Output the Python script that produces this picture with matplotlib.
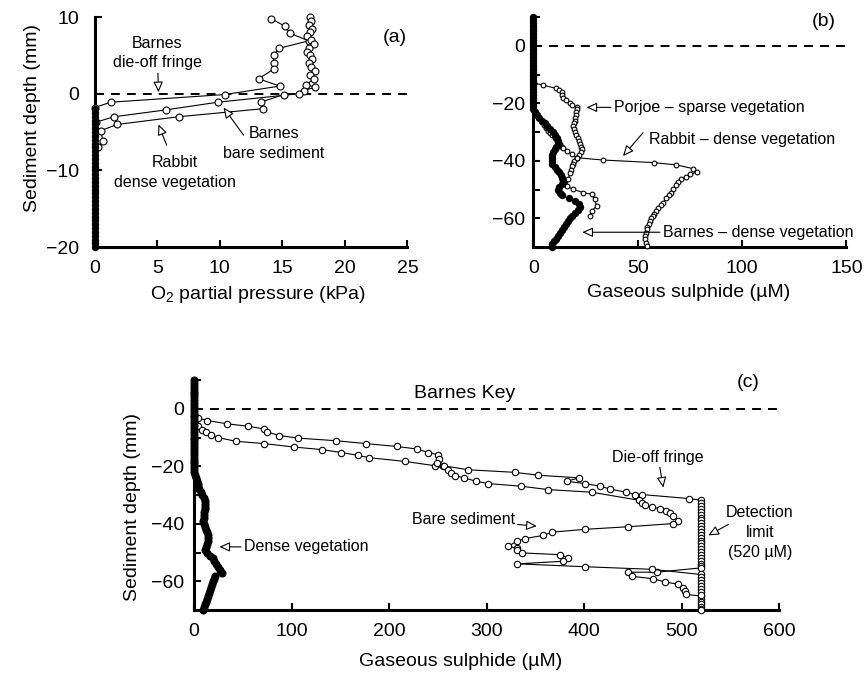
import numpy as np
import matplotlib
matplotlib.use('Agg')
import matplotlib.pyplot as plt

plt.rcParams['font.family'] = ['Liberation Sans', 'DejaVu Sans']
plt.rcParams['mathtext.fontset'] = 'custom'
plt.rcParams['mathtext.rm'] = 'Liberation Sans'

# ---------------- panel (a): O2 partial pressure (kPa) vs depth (mm)
a_dieoff_x = [14.1, 15.2, 15.6, 17.1, 14.7, 14.3, 14.3, 14.3, 13.1, 14.8, 10.4, 1.28, 0.0]
a_dieoff_y = [9.8, 8.8, 7.9, 6.9, 5.9, 5.0, 4.0, 3.2, 1.95, 1.0, -0.1, -1.1, -1.8]

a_bare_x = [17.2, 17.3, 17.1, 17.4, 17.2, 17.0, 17.3, 17.5, 17.1, 17.0, 17.2, 17.4, 17.1,
            17.3, 17.6, 17.2, 17.5, 16.9, 17.6, 16.7, 16.3, 9.85, 5.7, 1.54, 0.1]
a_bare_y = [10.0, 9.5, 9.0, 8.5, 8.0, 7.5, 7.0, 6.5, 6.0, 5.5, 5.0, 4.5, 4.0,
            3.5, 3.0, 2.5, 1.9, 1.2, 0.86, 0.4, 0.0, -1.1, -2.1, -3.0, -3.7]

a_rabbit_x = [15.1, 13.3, 13.45, 6.7, 1.8, 0.5, 0.64, 0.29]
a_rabbit_y = [-0.1, -1.1, -1.95, -3.0, -4.0, -4.8, -6.1, -6.9]

a_anoxic_y = [-2.0, -2.5, -3.0, -3.5, -4.0, -4.5, -5.0, -5.5, -6.0, -6.5, -7.0, -7.5,
              -8.0, -8.5, -9.0, -9.5, -10.0, -10.5, -11.0, -11.5, -12.0, -12.5, -13.0,
              -13.5, -14.0, -14.5, -15.0, -15.5, -16.0, -16.5, -17.0, -17.5, -18.0,
              -18.5, -19.0, -19.5, -20.0]
a_anoxic_x = [0.0] * len(a_anoxic_y)

# ---------------- panel (b): gaseous sulphide (uM)
b_barnes_y = [10, 9, 8, 7, 6, 5, 4, 3, 2, 1, 0, -1, -2, -3, -4, -5, -6, -7, -8, -9, -10,
              -11, -12, -13, -14, -15, -16, -17, -18, -19, -20, -21, -22, -23, -24, -25,
              -26, -27, -28, -29, -30, -31, -32, -33, -34, -35, -36, -37, -38, -39, -40,
              -41, -42, -43, -44, -45, -46, -47, -48, -49, -50, -51, -52, -53, -54, -55,
              -56, -57, -58, -59, -60, -61, -62, -63, -64, -65, -66, -67, -68, -69, -70]
b_barnes_x = [0] * 33 + [0.8, 1.8, 2.8, 4.2, 5.4, 6.5, 8.0, 9.6, 10.6, 11.4, 12.0, 11.8,
                         11.0, 10.2, 9.6, 9.2, 8.9, 8.8, 9.2, 10.3, 11.3, 12.4, 13.4, 14.0,
                         14.4, 14.0, 12.5, 12.0, 12.6, 13.6, 17.0, 20.0, 22.0, 22.3, 21.3,
                         19.8, 18.5, 17.4, 16.5, 15.6, 14.8, 13.8, 12.8, 11.8, 10.7, 9.9,
                         9.2, 8.8]

b_porjoe_x = [0.5, 4.8, 10.9, 12.5, 13.6, 14.0, 14.4, 15.5, 17.5, 18.4, 20.8, 21.0, 20.5,
              20.5, 20.0, 19.8, 19.5, 19.2, 19.5, 19.8, 20.5, 21.2, 22.0, 22.3, 22.8, 23.2,
              22.8, 22.0, 20.8, 19.5, 18.8, 18.4, 18.0, 17.6, 16.8, 16.0, 19.1, 23.9, 27.9,
              29.5, 30.3, 27.9, 27.1]
b_porjoe_y = [-13.0, -13.7, -14.8, -15.5, -16.2, -17.0, -18.0, -19.0, -20.0, -20.6, -21.4,
              -22.0, -23.0, -24.0, -25.0, -26.0, -27.0, -28.0, -29.0, -30.0, -31.0, -32.0,
              -33.0, -34.0, -35.0, -36.0, -37.0, -38.0, -38.9, -40.0, -41.0, -41.8, -43.0,
              -44.1, -46.4, -48.7, -49.9, -51.0, -51.6, -53.4, -55.7, -57.5, -59.2]

b_rabbit_x = [0.8, 1.5, 2.3, 3.2, 4.2, 5.2, 6.2, 7.2, 8.0, 9.0, 10.3, 11.5, 12.6, 13.8, 14.4,
              16.3, 18.4, 20.8, 33.5, 57.7, 68.6, 76.6, 78.5, 75.0, 73.0, 71.0, 69.5, 68.3,
              67.0, 65.8, 64.8, 63.6, 62.2, 61.0, 59.8, 58.8, 57.9, 57.4, 56.6, 55.8, 55.2,
              54.7, 54.3, 53.8, 53.5, 53.4, 53.8, 54.3]
b_rabbit_y = [-22.6, -23.5, -24.5, -25.5, -26.5, -27.5, -28.5, -29.5, -30.2, -31.0, -32.0,
              -33.0, -34.0, -35.0, -35.4, -36.5, -37.7, -38.9, -39.7, -40.6, -41.4, -42.7,
              -43.9, -44.7, -45.5, -46.4, -47.5, -48.5, -49.9, -51.0, -52.0, -53.0, -54.5,
              -55.5, -56.5, -57.5, -58.5, -59.2, -60.0, -61.0, -62.0, -63.0, -63.8, -65.0,
              -66.0, -67.3, -68.5, -69.6]

# ---------------- panel (c): Barnes Key
c_dense_y = b_barnes_y
c_dense_x = [0] * 33 + [1.0, 2.0, 3.0, 3.8, 4.4, 5.5, 7.0, 8.5, 10.0, 11.0, 11.3, 11.3, 11.0,
                        10.6, 10.2, 9.8, 9.6, 9.8, 10.8, 12.0, 13.5, 14.5, 14.7, 14.0, 13.0,
                        12.0, 11.3, 13.0, 16.0, 19.0, 20.5, 22.5, 25.0, 27.0, 28.4, 22.0,
                        20.5, 19.5, 18.5, 17.2, 16.2, 15.0, 14.0, 13.0, 11.8, 10.8, 10.0,
                        9.6]

c_dieoff_x = [0.5, 4.4, 13.6, 33.5, 55.7, 71.8, 75.2, 87.5, 107.0, 145.6, 176.1, 207.9, 229.0,
              240.3, 250.6, 251.6, 248.9, 255.7, 281.3, 329.2, 353.2, 394.9, 382.2, 401.0,
              416.4, 426.7, 443.1, 452.3, 459.1, 507.4,
              520, 520, 520, 520, 520, 520, 520, 520, 520, 520, 520, 520, 520, 520, 520, 520,
              520, 520, 520, 520, 520, 520, 520, 520, 520,
              474.5, 445.4, 448.9, 471.0, 483.1, 496.8, 501.9, 503.6, 504.6,
              520, 520, 520, 520, 520, 520, 520]
c_dieoff_y = [-2.6, -3.2, -4.1, -5.2, -6.1, -7.0, -8.1, -9.3, -10.2, -11.1, -12.1, -13.1, -14.0,
              -15.2, -16.0, -17.4, -19.1, -19.8, -21.2, -22.1, -23.1, -24.0, -25.2, -26.0,
              -26.9, -27.9, -29.0, -29.8, -29.8, -31.2,
              -31.8, -32.8, -33.8, -34.8, -35.8, -36.8, -37.8, -38.8, -39.8, -40.8, -41.8,
              -42.8, -43.8, -44.8, -45.8, -46.8, -47.8, -48.8, -49.8, -50.8, -51.8, -52.8,
              -53.8, -54.6, -55.3,
              -56.8, -56.8, -58.2, -59.1, -60.2, -61.0, -62.2, -63.4, -64.5,
              -65.1, -66.0, -67.0, -68.0, -69.0, -69.6, -70.0]

c_bare_x = [0.5, 4.1, 8.2, 12.6, 17.7, 24.6, 42.8, 71.8, 102.6, 131.3, 151.1, 168.2, 179.5,
            216.4, 247.2, 249.0, 256.4, 260.8, 263.2, 267.7, 276.9, 289.2, 301.8, 335.0,
            363.4, 407.9, 456.4, 459.0, 463.0, 469.4, 478.0, 484.0, 488.2, 491.6, 496.8,
            491.6, 445.4, 401.0, 366.9, 358.3, 339.5, 331.0, 322.4, 331.0, 331.0, 336.1,
            375.4, 383.9, 378.8, 331.6, 401.0, 469.4,
            520, 520, 520, 520, 520, 520, 520, 520]
c_bare_y = [-5.0, -6.1, -7.3, -8.1, -9.0, -10.0, -11.3, -12.1, -13.3, -14.2, -15.2, -16.2, -17.0,
            -18.3, -19.8, -18.8, -20.0, -21.2, -22.3, -23.2, -24.0, -25.2, -26.0, -26.9,
            -28.1, -29.0, -31.8, -32.6, -33.4, -34.1, -34.8, -35.5, -36.2, -37.4, -39.1,
            -39.9, -41.0, -41.9, -42.9, -44.0, -45.1, -46.0, -47.8, -48.5, -49.2, -50.1,
            -50.7, -51.8, -53.0, -53.9, -54.9, -55.8,
            -57.6, -58.6, -59.6, -60.6, -61.6, -62.6, -63.6, -64.6]

FS_TICK = 14
FS_LAB = 14
FS_ANN = 11.5

fig = plt.figure(figsize=(8.65, 6.81), dpi=100)
ax_a = fig.add_axes([0.1095, 0.637, 0.3615, 0.338])
ax_b = fig.add_axes([0.6165, 0.637, 0.362, 0.338])
ax_c = fig.add_axes([0.2243, 0.104, 0.6763, 0.338])


def style(ax, ypad):
    for s in ['top', 'right']:
        ax.spines[s].set_visible(False)
    for s in ['left', 'bottom']:
        ax.spines[s].set_linewidth(2.2)
    ax.tick_params(which='both', direction='in', length=5, width=1.5,
                   labelsize=FS_TICK)
    ax.tick_params(axis='x', which='both', pad=9)
    ax.tick_params(axis='y', which='both', pad=ypad)
    ax.axhline(0, color='black', lw=1.4, ls=(0, (4.6, 3.6)), zorder=1)


def arrow(ax, text, tip, xytext, **kw):
    ax.annotate(text, xy=tip, xytext=xytext, fontsize=FS_ANN,
                arrowprops=dict(arrowstyle='-|>,head_length=0.55,head_width=0.25',
                                fc='white', ec='black', lw=0.8,
                                shrinkA=0, shrinkB=0), **kw)


open_kw = dict(color='black', lw=0.8, marker='o', mfc='white', mec='black',
               mew=0.8, clip_on=False, zorder=3)
fill_kw = dict(color='black', lw=0.8, marker='o', mfc='black', mec='black',
               mew=0.8, clip_on=False, zorder=4)

# (a)
style(ax_a, 11)
ax_a.plot(a_dieoff_x, a_dieoff_y, ms=5, **open_kw)
ax_a.plot(a_bare_x, a_bare_y, ms=5, **open_kw)
ax_a.plot(a_rabbit_x, a_rabbit_y, ms=5, **open_kw)
ax_a.plot(a_anoxic_x, a_anoxic_y, ms=4.5, **fill_kw)
ax_a.set_xlim(0, 25)
ax_a.set_ylim(-20, 10)
ax_a.set_xticks([0, 5, 10, 15, 20, 25])
ax_a.set_yticks([-20, -10, 0, 10])
ax_a.set_xlabel('O$_2$ partial pressure (kPa)', fontsize=FS_LAB, va='top')
ax_a.xaxis.set_label_coords(0.523, -0.159)
ax_a.set_ylabel('Sediment depth (mm)', fontsize=FS_LAB)
ax_a.yaxis.set_label_coords(-0.172, 0.563)
ax_a.text(24.0, 7.3, '(a)', fontsize=FS_LAB, ha='center', va='center')
arrow(ax_a, 'Barnes\ndie-off fringe', (5.1, 0.2), (5.0, 5.3), ha='center', va='center',
      linespacing=1.4)
arrow(ax_a, '', (10.3, -1.8), (11.9, -5.4))
ax_a.text(14.3, -6.5, 'Barnes\nbare sediment', fontsize=FS_ANN, ha='center', va='center',
          linespacing=1.4)
arrow(ax_a, '', (5.1, -4.0), (5.75, -6.7))
ax_a.text(6.4, -10.3, 'Rabbit\ndense vegetation', fontsize=FS_ANN, ha='center', va='center',
          linespacing=1.4)

# (b)
style(ax_b, 6)
ax_b.plot(b_porjoe_x, b_porjoe_y, ms=3.4, **open_kw)
ax_b.plot(b_rabbit_x, b_rabbit_y, ms=3.4, **open_kw)
ax_b.plot(b_barnes_x, b_barnes_y, ms=4.5, **fill_kw)
ax_b.set_xlim(0, 150)
ax_b.set_ylim(-70, 10)
ax_b.set_xticks([0, 50, 100, 150])
ax_b.set_yticks([-60, -40, -20, 0])
ax_b.set_yticks([-50, -30, -10, 10], minor=True)
ax_b.set_xlabel('Gaseous sulphide (µM)', fontsize=FS_LAB, va='top')
ax_b.xaxis.set_label_coords(0.497, -0.159)
ax_b.text(139, 8.6, '(b)', fontsize=FS_LAB, ha='center', va='center')
arrow(ax_b, 'Porjoe – sparse vegetation', (25.5, -21.4), (38.5, -21.4), ha='left', va='center')
arrow(ax_b, '', (43, -38.3), (52.6, -30.2))
ax_b.text(55.5, -32.5, 'Rabbit – dense vegetation', fontsize=FS_ANN, ha='left', va='center')
arrow(ax_b, 'Barnes – dense vegetation', (23.5, -64.8), (62.0, -64.8), ha='left', va='center')

# (c)
style(ax_c, 7)
ax_c.plot(c_dieoff_x, c_dieoff_y, ms=4.6, **open_kw)
ax_c.plot(c_bare_x, c_bare_y, ms=4.6, **open_kw)
ax_c.plot(c_dense_x, c_dense_y, ms=5, **fill_kw)
ax_c.set_xlim(0, 600)
ax_c.set_ylim(-70, 10)
ax_c.set_xticks([0, 100, 200, 300, 400, 500, 600])
ax_c.set_yticks([-60, -40, -20, 0])
ax_c.set_yticks([-50, -30, -10, 10], minor=True)
ax_c.set_xlabel('Gaseous sulphide (µM)', fontsize=FS_LAB, va='top')
ax_c.xaxis.set_label_coords(0.455, -0.187)
ax_c.set_ylabel('Sediment depth (mm)', fontsize=FS_LAB)
ax_c.yaxis.set_label_coords(-0.090, 0.45)
ax_c.text(278, 5.2, 'Barnes Key', fontsize=14, ha='center', va='center')
ax_c.text(568, 9.3, '(c)', fontsize=FS_LAB, ha='center', va='center')
arrow(ax_c, 'Die-off fringe', (481.3, -27.4), (476, -19.4), ha='center', va='bottom')
arrow(ax_c, '', (527.5, -44.0), (548, -40.2))
ax_c.text(580.5, -42.9, 'Detection\nlimit\n(520 µM)', fontsize=FS_ANN, ha='center',
          va='center', linespacing=1.4)
arrow(ax_c, 'Bare sediment', (351.5, -40.8), (329, -38.6), ha='right', va='center')
arrow(ax_c, 'Dense vegetation', (26, -48.0), (51, -48.0), ha='left', va='center')

fig.savefig('out.png', dpi=100)
